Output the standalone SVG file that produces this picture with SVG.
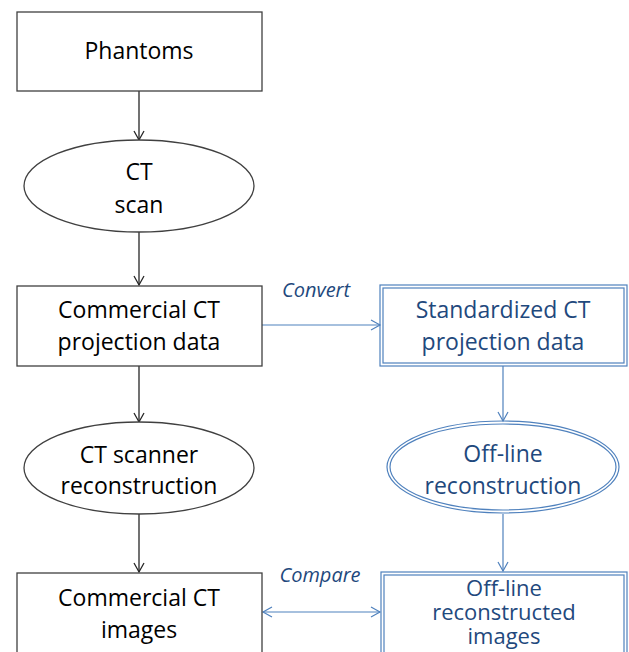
<svg xmlns="http://www.w3.org/2000/svg" width="629" height="652" viewBox="0 0 629 652">
<defs>
<style>
.t{font-family:"Open Sans","Liberation Sans",sans-serif;font-size:23px;text-anchor:middle;fill:#000}
.tb{font-family:"Open Sans","Liberation Sans",sans-serif;font-size:23px;text-anchor:middle;fill:#1F497D}
.lbl{font-family:"Open Sans","Liberation Sans",sans-serif;font-size:20px;font-style:italic;text-anchor:middle;fill:#1F497D}
.bk{fill:#fff;stroke:#404040;stroke-width:1.3}
.bl{fill:none;stroke:#4F81BD;stroke-width:1.2}
.cb{fill:none;stroke:#262626;stroke-width:1.3}
.cl{fill:none;stroke:#4F81BD;stroke-width:1.2}
</style>
<marker id="ab" markerWidth="12" markerHeight="12" refX="10" refY="6" orient="auto" markerUnits="userSpaceOnUse">
<path d="M1,1 L10,6 L1,11" fill="none" stroke="#262626" stroke-width="1.3"/>
</marker>
<marker id="al" markerWidth="12" markerHeight="12" refX="10" refY="6" orient="auto-start-reverse" markerUnits="userSpaceOnUse">
<path d="M1,1 L10,6 L1,11" fill="none" stroke="#4F81BD" stroke-width="1.2"/>
</marker>
</defs>
<rect width="629" height="652" fill="#fff"/>
<g id="connectors">
<line class="cb" x1="139" y1="91" x2="139" y2="140" marker-end="url(#ab)"/>
<line class="cb" x1="139" y1="232" x2="139" y2="285" marker-end="url(#ab)"/>
<line class="cb" x1="139" y1="366" x2="139" y2="422" marker-end="url(#ab)"/>
<line class="cb" x1="139" y1="514" x2="139" y2="572" marker-end="url(#ab)"/>
<line class="cl" x1="262" y1="325" x2="380" y2="325" marker-end="url(#al)"/>
<line class="cl" x1="503" y1="366" x2="503" y2="421" marker-end="url(#al)"/>
<line class="cl" x1="503" y1="514" x2="503" y2="571" marker-end="url(#al)"/>
<line class="cl" x1="263" y1="612" x2="380" y2="612" marker-start="url(#al)" marker-end="url(#al)"/>
<text class="lbl" x="316" y="297">Convert</text>
<text class="lbl" x="320" y="582">Compare</text>
</g>
<g id="phantoms">
<rect class="bk" x="17" y="12" width="245" height="79"/>
<text class="t" x="139" y="59">Phantoms</text>
</g>
<g id="ct-scan">
<ellipse class="bk" cx="139" cy="186" rx="115" ry="46"/>
<text class="t" x="139" y="180">CT</text>
<text class="t" x="139" y="213">scan</text>
</g>
<g id="commercial-projection">
<rect class="bk" x="17" y="286" width="245" height="80"/>
<text class="t" x="139" y="318">Commercial CT</text>
<text class="t" x="139" y="350">projection data</text>
</g>
<g id="scanner-recon">
<ellipse class="bk" cx="139" cy="468" rx="115" ry="46"/>
<text class="t" x="139" y="463">CT scanner</text>
<text class="t" x="139" y="494">reconstruction</text>
</g>
<g id="commercial-images">
<rect class="bk" x="17" y="573" width="245" height="90"/>
<text class="t" x="139" y="606">Commercial CT</text>
<text class="t" x="139" y="638">images</text>
</g>
<g id="standardized">
<rect class="bl" x="380" y="285" width="247" height="81"/>
<rect class="bl" x="383" y="288" width="241" height="75"/>
<text class="tb" x="503" y="318">Standardized CT</text>
<text class="tb" x="503" y="350">projection data</text>
</g>
<g id="offline-recon">
<ellipse class="bl" cx="503" cy="467" rx="116" ry="46"/>
<ellipse class="bl" cx="503" cy="467" rx="113" ry="43"/>
<text class="tb" x="503" y="462">Off-line</text>
<text class="tb" x="503" y="494">reconstruction</text>
</g>
<g id="offline-images">
<rect class="bl" x="381" y="572" width="246" height="90"/>
<rect class="bl" x="384" y="575" width="240" height="90"/>
<text class="tb" x="504" y="596" style="font-size:22px">Off-line</text>
<text class="tb" x="504" y="620" style="font-size:22px">reconstructed</text>
<text class="tb" x="504" y="644" style="font-size:22px">images</text>
</g>
</svg>
